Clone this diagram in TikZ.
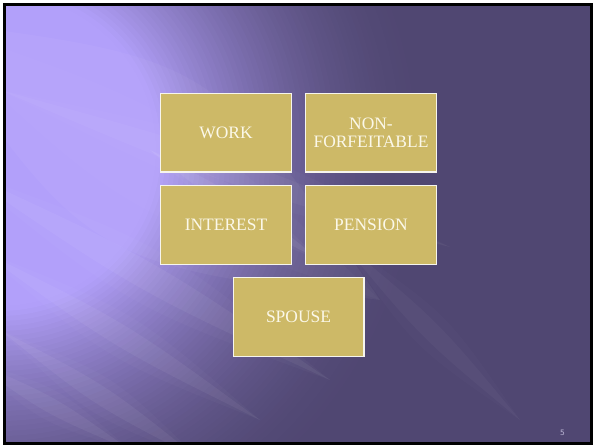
\documentclass[tikz,border=0pt]{standalone}
\usepackage{fontspec}
\setmainfont{Liberation Serif}
\setsansfont{DejaVu Sans}
\usepackage{tikz}
\usetikzlibrary{positioning,calc}
\usepackage{xcolor}
\definecolor{slidelav}  {RGB}{178,160,250}
\definecolor{slidedark} {RGB}{ 80, 71,114}
\definecolor{boxgold}   {RGB}{205,185,103}
\definecolor{boxedge}   {RGB}{246,245,238}
\definecolor{boxtext}   {RGB}{251,248,233}
\definecolor{numgrey}   {RGB}{190,184,215}

\begin{document}
\begin{tikzpicture}[
    x=1bp, y=-1bp,
    block/.style={draw=boxedge, fill=boxgold, line width=1.3bp, rectangle, minimum width=130.7bp, minimum height=78.7bp, inner sep=0pt, align=center, text=boxtext, font=\fontsize{17.5}{18.7}\selectfont},
    streak/.style={fill=white, draw=none},
    pagelabel/.style={font=\sffamily\fontsize{7.5}{8}\selectfont, text=numgrey, inner sep=0pt}
]
    % slide background: glow from the upper left, light rays, frame
    \useasboundingbox[fill=white] (0,0) rectangle (593,445);
    \begin{scope}
        \clip (4.5,4.5) rectangle (591.5,443.5);
        \fill[slidedark] (0,0) rectangle (593,445);
        \foreach \r in {426,421,...,146}{
            \pgfmathsetmacro\p{min(100,100*((430-\r)/270)^1.8)}
            \fill[slidelav!\p!slidedark] (0,150) circle [radius=\r];
        }
        % broad beam plus thin rays
        \foreach \ax/\ay/\bx/\by/\wa/\wb/\o in {-80/20/380/300/120bp/60bp/0.04,
                                               -40/170/330/380/18bp/36bp/0.05, -20/250/260/420/14bp/28bp/0.05,
                                               0/330/200/460/12bp/24bp/0.05, 0/90/450/247/16bp/32bp/0.04,
                                               340/240/520/420/12bp/24bp/0.03, -30/360/130/450/10bp/20bp/0.05,
                                               150/150/320/260/10bp/20bp/0.06}{
            \coordinate (sa) at (\ax,\ay);
            \coordinate (sb) at (\bx,\by);
            \fill[streak, opacity=\o] (sa) .. controls ($(sa)!0.5!(sb)!\wa!90:(sb)$) .. (sb)
                .. controls ($(sa)!0.5!(sb)!\wa!-90:(sb)$) .. (sa);
            \fill[streak, opacity=\o/2] (sa) .. controls ($(sa)!0.5!(sb)!\wb!90:(sb)$) .. (sb)
                .. controls ($(sa)!0.5!(sb)!\wb!-90:(sb)$) .. (sa);
        }
    \end{scope}
    \draw[line width=3bp] (4.5,4.5) rectangle (591.5,443.5);

    % the five term boxes
    \node[block] (work) at (226,132.8) {WORK};
    \node[block, right=13bp of work] (forfeit) {NON-\\FORFEITABLE};
    \node[block, below=12bp of work] (interest) {INTEREST};
    \node[block, right=13bp of interest] (pension) {PENSION};
    \coordinate (rowgap) at ($(interest.south)!0.5!(pension.south)$);
    \node[block, below=12bp of rowgap] (spouse) {SPOUSE};

    \node[pagelabel] (pageno) at (562.5,432.5) {5};
\end{tikzpicture}
\end{document}
